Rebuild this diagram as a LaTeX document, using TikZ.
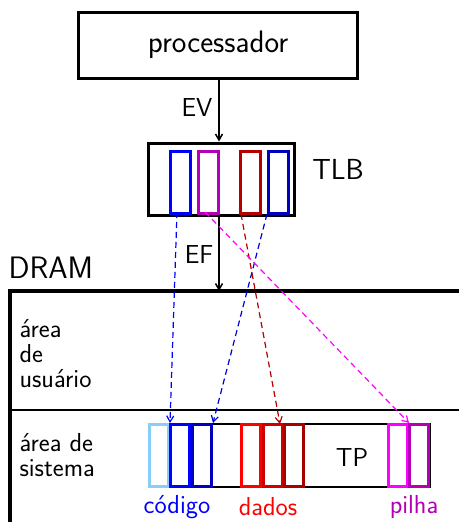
\documentclass[tikz,border=0pt]{standalone}
\usetikzlibrary{arrows.meta}
\renewcommand{\familydefault}{\sfdefault}
\definecolor{skyb}{RGB}{135,206,250}
\definecolor{purp}{RGB}{180,0,180}
\definecolor{brightmag}{RGB}{255,0,255}
\definecolor{dkred}{RGB}{180,0,0}
\definecolor{dkblue}{RGB}{0,0,190}
\begin{document}
\begin{tikzpicture}[x=1pt,y=-1pt,
  big/.style={font=\fontsize{31}{34}\selectfont},
  mid/.style={font=\fontsize{29}{32}\selectfont},
  lbl/.style={font=\fontsize{26}{30}\selectfont},
  heavybox/.style={draw,line width=3pt},
  entry/.style={draw,line width=3pt,minimum width=20pt,minimum height=62pt,inner sep=0pt},
  page/.style={draw,line width=3pt,minimum width=19pt,minimum height=62pt,inner sep=0pt},
  solidarr/.style={-{Straight Barb[length=6pt,width=7pt]},line width=1.5pt},
  dasharr/.style={dash pattern=on 6pt off 4pt,-{Straight Barb[length=6pt,width=7pt]},line width=1.2pt}]
\useasboundingbox (0,0) rectangle (459,522);

% processor and TLB
\node[heavybox,big,minimum width=279pt,minimum height=66pt] (proc) at (218,45) {processador};
\node[heavybox,minimum width=146pt,minimum height=72pt] (tlb) at (221,179) {};
\node[mid] (tlbl) at (338,169) {TLB};
\node[entry,draw=blue] (t1) at (180,182) {};
\node[entry,draw=purp] (t2) at (208,182) {};
\node[entry,draw=dkred] (t3) at (250,182) {};
\node[entry,draw=dkblue] (t4) at (278,182) {};

% DRAM
\node[big,anchor=west] (dram) at (5,268) {DRAM};
\draw[line width=4pt] (10,522) -- (10,291) -- (459,291);
\coordinate (split0) at (10,410);
\coordinate (split1) at (459,410);
\draw[line width=2pt] (split0) -- (split1);
\node[lbl,anchor=west,align=left] (user) at (16,354) {área\\[-5pt]de\\[-5pt]usuário};
\node[lbl,anchor=west,align=left] (sys) at (16,455) {área de\\[-5pt]sistema};

% page table
\draw[line width=2pt] (149,424) rectangle (430,487);
\node[lbl] (tp) at (352,457) {TP};
\node[page,draw=skyb] (c0) at (159,455.5) {};
\node[page,draw=blue] (c1) at (180,455.5) {};
\node[page,draw=dkblue] (c2) at (202,455.5) {};
\node[page,draw=red] (d0) at (251,455.5) {};
\node[page,draw=red!80!black] (d1) at (272.5,455.5) {};
\node[page,draw=red!65!black] (d2) at (293.5,455.5) {};
\node[page,draw=brightmag] (p0) at (398,455.5) {};
\node[page,draw=purp] (p1) at (419,455.5) {};
\node[lbl,text=blue] (cod) at (177,507) {código};
\node[lbl,text=red] (dad) at (268,507) {dados};
\node[lbl,text=purp] (pil) at (414,507) {pilha};

% address translation
\coordinate (ftop) at (219,79);
\coordinate (fdram) at (219,291);
\draw[solidarr] (ftop) -- (tlb.north -| ftop);
\draw[solidarr] (tlb.south -| ftop) -- (fdram);
\node[lbl] (ev) at (197,107) {EV};
\node[lbl] (ef) at (199,255) {EF};

% entries to pages
\coordinate (s1) at (177,212);
\coordinate (s2) at (205,212);
\coordinate (s3) at (241,214);
\coordinate (s4) at (267,214);
\draw[dasharr,blue] (s1) -- (c0.north east);
\draw[dasharr,blue!85!black] (s4) -- (c2.north east);
\draw[dasharr,dkred] (s3) -- (280,424);
\draw[dasharr,brightmag] (s2) -- (p0.north east);
\end{tikzpicture}
\end{document}
